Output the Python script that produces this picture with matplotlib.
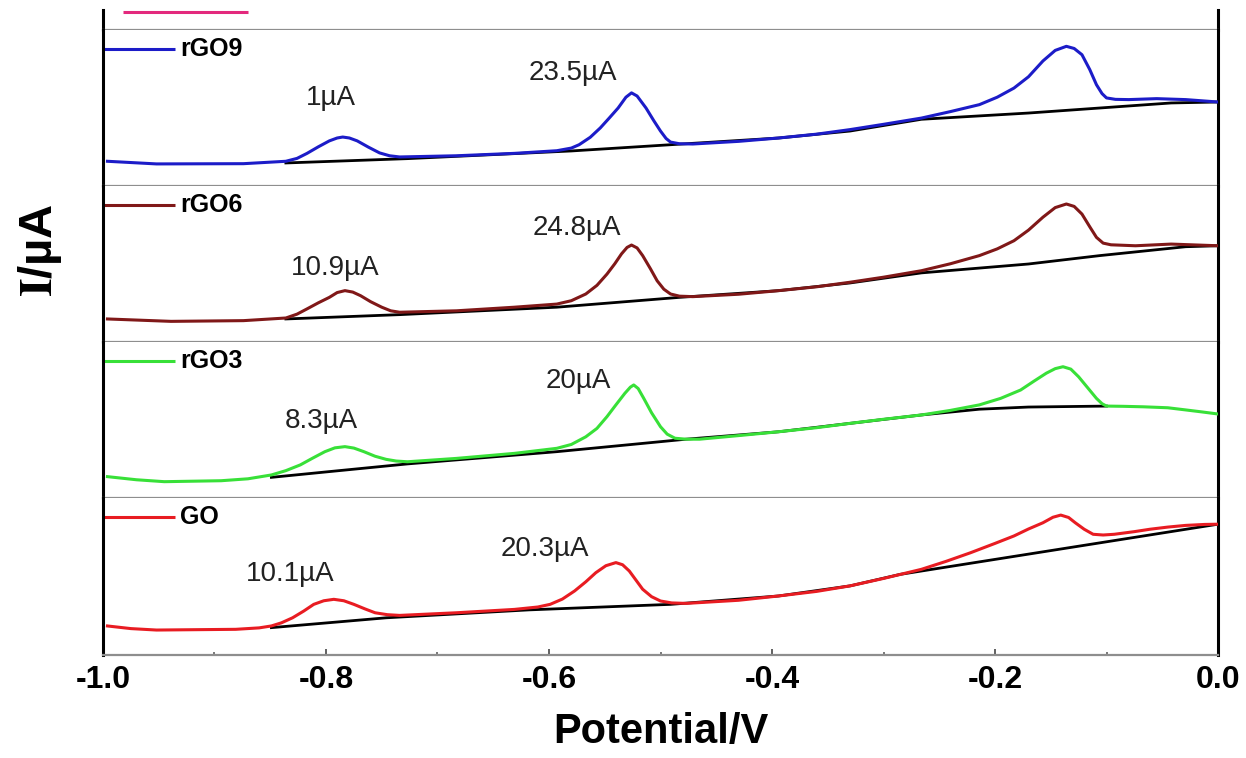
import matplotlib
matplotlib.use("Agg")
import matplotlib.pyplot as plt
from matplotlib.ticker import MultipleLocator

plt.rcParams["font.family"] = ["Liberation Sans", "DejaVu Sans"]
plt.rcParams["mathtext.fontset"] = "stix"

# ── Data (potential in V, current in µA) ──────────────────────────────────────

RGO9_E = [-0.996, -0.952, -0.874, -0.836, -0.826, -0.817, -0.807, -0.797, -0.790,
          -0.785, -0.779, -0.772, -0.762, -0.752, -0.743, -0.734, -0.683, -0.631,
          -0.593, -0.580, -0.573, -0.563, -0.554, -0.546, -0.538, -0.531, -0.526,
          -0.521, -0.513, -0.506, -0.500, -0.495, -0.491, -0.483, -0.471, -0.430,
          -0.394, -0.360, -0.330, -0.300, -0.266, -0.240, -0.214, -0.198, -0.183,
          -0.170, -0.157, -0.146, -0.136, -0.129, -0.122, -0.115, -0.109, -0.104,
          -0.100, -0.092, -0.080, -0.055, -0.029, 0.000]
RGO9_I = [10.3, 9.2, 9.3, 10.3, 11.5, 13.6, 16.3, 18.8, 20.0,
          20.4, 20.0, 18.8, 16.2, 13.8, 12.6, 12.1, 12.6, 13.6,
          14.7, 15.8, 17.2, 20.3, 24.2, 28.3, 32.5, 37.0, 38.8,
          37.5, 32.5, 27.2, 22.9, 19.8, 18.3, 17.6, 17.5, 18.6,
          20.0, 21.6, 23.5, 25.7, 28.3, 31.0, 33.9, 37.0, 40.8,
          45.5, 52.1, 56.5, 58.2, 57.3, 54.7, 48.5, 42.2, 38.5,
          36.7, 36.1, 36.0, 36.4, 36.0, 35.0]
RGO9_BASE_E = [-0.836, -0.727, -0.580, -0.491, -0.394, -0.330, -0.266, -0.170, -0.106, -0.042, 0.000]
RGO9_BASE_I = [9.6, 11.4, 14.6, 17.2, 20.0, 22.9, 27.8, 30.4, 32.5, 34.6, 35.0]

RGO6_E = [-0.996, -0.939, -0.874, -0.836, -0.826, -0.817, -0.807, -0.797, -0.790,
          -0.783, -0.776, -0.769, -0.760, -0.750, -0.742, -0.734, -0.683, -0.631,
          -0.593, -0.580, -0.567, -0.557, -0.548, -0.541, -0.535, -0.530, -0.526,
          -0.521, -0.516, -0.509, -0.503, -0.497, -0.491, -0.483, -0.471, -0.430,
          -0.394, -0.360, -0.330, -0.300, -0.266, -0.240, -0.214, -0.198, -0.183,
          -0.170, -0.157, -0.146, -0.136, -0.129, -0.122, -0.115, -0.109, -0.103,
          -0.096, -0.074, -0.042, 0.000]
RGO6_I = [9.6, 8.6, 8.9, 10.0, 11.6, 13.8, 16.3, 18.6, 20.6,
          21.4, 20.8, 19.3, 16.8, 14.5, 13.0, 12.4, 13.0, 14.5,
          15.8, 17.2, 20.0, 23.6, 28.3, 32.6, 36.7, 39.4, 40.4,
          39.2, 36.0, 30.5, 25.5, 22.0, 20.0, 19.1, 18.9, 19.9,
          21.4, 23.0, 24.9, 27.0, 29.7, 32.6, 36.0, 38.8, 42.2,
          46.6, 52.0, 56.0, 57.5, 56.5, 53.3, 48.0, 43.6, 41.2,
          40.5, 40.1, 40.8, 40.1]
RGO6_BASE_E = [-0.836, -0.734, -0.593, -0.483, -0.394, -0.330, -0.266, -0.170, -0.106, -0.029, 0.000]
RGO6_BASE_I = [9.6, 11.4, 14.5, 18.6, 21.4, 24.6, 28.8, 32.5, 36.0, 39.7, 40.1]

RGO3_E = [-0.996, -0.970, -0.945, -0.894, -0.870, -0.849, -0.836, -0.823, -0.812,
          -0.801, -0.792, -0.783, -0.775, -0.766, -0.756, -0.746, -0.737, -0.727,
          -0.683, -0.631, -0.593, -0.580, -0.567, -0.557, -0.548, -0.540, -0.532,
          -0.527, -0.524, -0.520, -0.515, -0.508, -0.500, -0.494, -0.487, -0.477,
          -0.465, -0.430, -0.394, -0.360, -0.330, -0.300, -0.266, -0.240, -0.214,
          -0.195, -0.177, -0.165, -0.154, -0.146, -0.139, -0.132, -0.125, -0.117,
          -0.109, -0.104, -0.100, -0.085, -0.067, -0.045, -0.029, -0.015, 0.000]
RGO3_I = [8.9, 7.6, 6.8, 7.2, 8.0, 9.6, 11.4, 13.8, 16.6,
          19.3, 20.9, 21.4, 20.8, 19.3, 17.4, 16.1, 15.4, 15.1,
          16.5, 18.6, 20.7, 22.3, 25.5, 29.0, 33.9, 38.8, 43.6,
          46.2, 47.1, 45.6, 41.5, 35.5, 29.7, 26.6, 24.9, 24.5,
          24.5, 26.0, 27.6, 29.3, 31.1, 32.8, 34.6, 36.5, 38.8,
          41.5, 45.0, 48.7, 52.0, 53.9, 54.7, 53.7, 50.5, 46.0,
          41.5, 39.3, 38.3, 38.2, 38.0, 37.6, 36.7, 35.9, 35.0]
RGO3_BASE_E = [-0.849, -0.797, -0.727, -0.593, -0.477, -0.394, -0.330, -0.266, -0.214, -0.170, -0.100]
RGO3_BASE_I = [8.6, 11.0, 14.2, 19.3, 24.5, 27.6, 31.1, 34.6, 37.0, 37.9, 38.3]

GO_E = [-0.996, -0.975, -0.952, -0.881, -0.860, -0.849, -0.840, -0.830, -0.820,
        -0.811, -0.802, -0.793, -0.784, -0.775, -0.765, -0.756, -0.745, -0.734,
        -0.683, -0.631, -0.610, -0.599, -0.588, -0.577, -0.567, -0.558, -0.549,
        -0.540, -0.534, -0.528, -0.522, -0.516, -0.508, -0.500, -0.490, -0.477,
        -0.430, -0.394, -0.360, -0.330, -0.300, -0.266, -0.244, -0.222, -0.200,
        -0.183, -0.170, -0.157, -0.148, -0.141, -0.134, -0.128, -0.120, -0.112,
        -0.103, -0.093, -0.075, -0.061, -0.045, -0.029, -0.012, 0.000]
GO_I = [12.1, 11.0, 10.4, 10.7, 11.3, 12.1, 13.4, 15.5, 18.3,
        21.1, 22.6, 23.2, 22.6, 21.1, 19.2, 17.6, 16.8, 16.5,
        17.6, 19.0, 20.0, 21.1, 23.3, 26.7, 30.5, 34.3, 37.2,
        38.5, 37.6, 35.0, 31.2, 27.4, 24.3, 22.5, 21.7, 21.5,
        22.8, 24.6, 26.5, 28.8, 31.9, 35.7, 39.0, 42.6, 46.5,
        49.6, 52.5, 55.1, 57.4, 58.3, 57.3, 55.1, 52.4, 50.3,
        50.0, 50.3, 51.4, 52.4, 53.3, 54.0, 54.4, 54.5]
GO_BASE_E = [-0.849, -0.746, -0.618, -0.491, -0.394, -0.330, -0.285, 0.000]
GO_BASE_I = [11.4, 15.5, 18.8, 21.1, 24.6, 28.8, 33.6, 54.5]

# cropped curve at the very top of the original figure
TOP_E = [-0.982, -0.870]
TOP_I = [7.3, 7.3]

SAMPLES = ["rGO9", "rGO6", "rGO3", "GO"]
PEAK_LABELS = {
    "rGO9": ["1µA", "23.5µA"],
    "rGO6": ["10.9µA", "24.8µA"],
    "rGO3": ["8.3µA", "20µA"],
    "GO":   ["10.1µA", "20.3µA"],
}

CURVES = {
    "rGO9": (RGO9_E, RGO9_I, RGO9_BASE_E, RGO9_BASE_I),
    "rGO6": (RGO6_E, RGO6_I, RGO6_BASE_E, RGO6_BASE_I),
    "rGO3": (RGO3_E, RGO3_I, RGO3_BASE_E, RGO3_BASE_I),
    "GO":   (GO_E, GO_I, GO_BASE_E, GO_BASE_I),
}

# ── Style / layout ─────────────────────────────────────────────────────────────

COLORS = {"rGO9": "#1c1cc8", "rGO6": "#801818", "rGO3": "#38e038", "GO": "#e81c22"}
LABEL_POS = {
    "rGO9": [(-0.796, 36.7), (-0.579, 47.1)],
    "rGO6": [(-0.792, 30.8), (-0.575, 47.5)],
    "rGO3": [(-0.804, 32.1), (-0.574, 48.8)],
    "GO":   [(-0.832, 33.8), (-0.604, 44.2)],
}

W, H = 1246, 758
X0, X1 = 103, 1218
EDGES = [10, 30, 186, 342, 498, 655]   # panel edges, pixels from top
PX_PER_UA = 2.4
GRAY = "#8e8e8e"

fig = plt.figure(figsize=(W / 100, H / 100), dpi=100)

axes = []
for top, bot in zip(EDGES[:-1], EDGES[1:]):
    ax = fig.add_axes([X0 / W, 1 - bot / H, (X1 - X0) / W, (bot - top) / H])
    ax.set_xlim(-1.0, 0.0)
    ax.set_ylim(0, (bot - top) / PX_PER_UA)
    ax.set_yticks([])
    ax.spines["top"].set_visible(False)
    for s in ("left", "right"):
        ax.spines[s].set_color("black")
        ax.spines[s].set_linewidth(2.2)
    ax.spines["bottom"].set_color(GRAY)
    ax.spines["bottom"].set_linewidth(1.6)
    ax.tick_params(axis="x", which="both", bottom=False, labelbottom=False)
    axes.append(ax)

# top (cropped) strip
axes[0].plot(TOP_E, TOP_I, color="#e3297d", lw=2.2, solid_capstyle="butt")

for ax, name in zip(axes[1:], SAMPLES):
    e, i, be, bi = CURVES[name]
    ax.plot(be, bi, color="black", lw=2.0, zorder=2)
    ax.plot(e, i, color=COLORS[name], lw=2.2, zorder=3)
    # legend entry
    ax.plot([0, 0.065], [0.88, 0.88], transform=ax.transAxes,
            color=COLORS[name], lw=2.2, solid_capstyle="butt", clip_on=False)
    ax.text(0.069, 0.88, name, transform=ax.transAxes, fontsize=18,
            fontweight="bold", va="center", ha="left")
    for txt, (px, py) in zip(PEAK_LABELS[name], LABEL_POS[name]):
        ax.text(px, py, txt, fontsize=20, ha="center", va="center", color="#222222")

bottom = axes[-1]
bottom.tick_params(axis="x", which="both", bottom=True, labelbottom=True,
                   direction="in", colors="#555555", labelcolor="black",
                   labelsize=23, pad=7)
bottom.tick_params(axis="x", which="major", length=4, width=1.3)
bottom.tick_params(axis="x", which="minor", length=2.5, width=1.1)
bottom.xaxis.set_major_locator(MultipleLocator(0.2))
bottom.xaxis.set_minor_locator(MultipleLocator(0.1))
bottom.set_xticklabels([f"{v:.1f}" for v in bottom.get_xticks()])
for lbl in bottom.get_xticklabels():
    lbl.set_fontweight("bold")

fig.text((X0 + X1) / 2 / W, 1 - 732 / H, "Potential/V", fontsize=30,
         fontweight="bold", ha="center", va="center")
fig.text(40 / W, 1 - 250 / H, r"$\mathbf{I}$/µA", fontsize=34,
         fontweight="bold", rotation=90, ha="center", va="center")

fig.savefig("out.png", dpi=100)
